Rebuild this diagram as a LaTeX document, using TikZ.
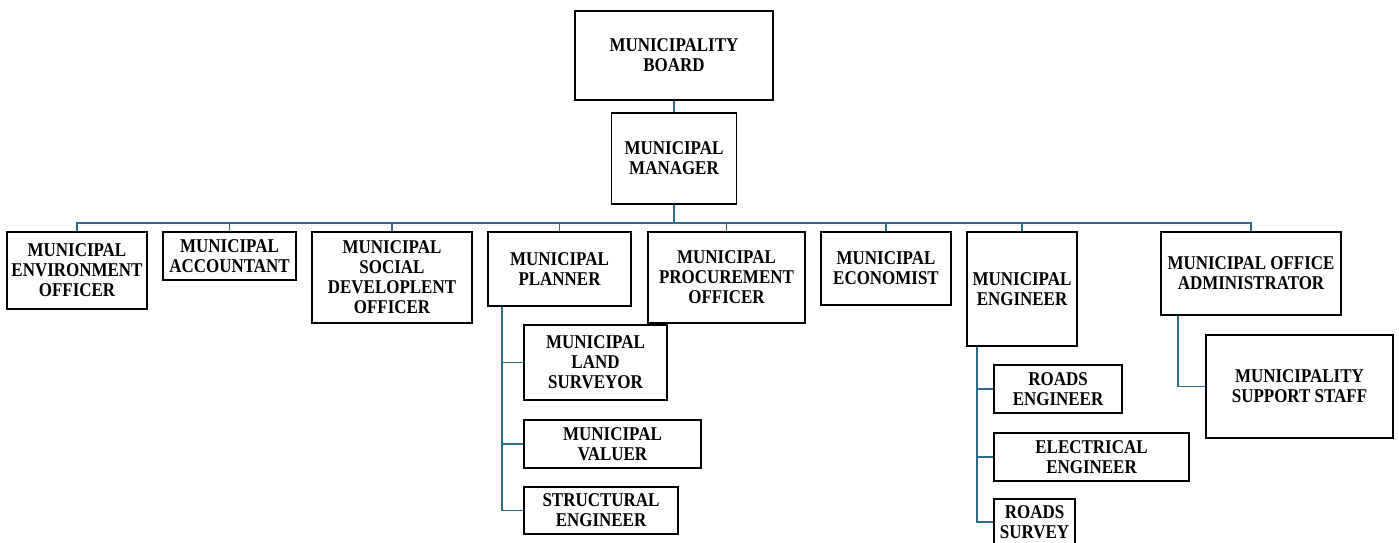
\documentclass[tikz,border=0pt]{standalone}
\usepackage{fontspec}
\setmainfont{Liberation Serif}[FakeStretch=0.87]
\usepackage{xcolor}
\definecolor{linkblue}{RGB}{46,108,140}
\tikzset{
  box/.style={draw, fill=white, line width=1.8pt, align=center, inner sep=0pt,
    font=\fontsize{19.5}{20}\selectfont\bfseries},
  link/.style={draw=linkblue, line width=1.7pt}
}
\begin{document}
\begin{tikzpicture}[x=1pt, y=-1pt]
  \useasboundingbox (0,0) rectangle (1399,543);
  \clip (0,0) rectangle (1399,543);
  % top
  \node[box, minimum width=198, minimum height=89] (board) at (674,55.5) {MUNICIPALITY\\BOARD};
  \node[box, minimum width=125, minimum height=91] (mgr) at (674,158.5) {MUNICIPAL\\MANAGER};
  % first row
  \node[box, minimum width=140, minimum height=77] (env) at (77,270.5) {MUNICIPAL\\ENVIRONMENT\\OFFICER};
  \node[box, minimum width=133, minimum height=48] (acct) at (229.5,256) {MUNICIPAL\\ACCOUNTANT};
  \node[box, minimum width=160, minimum height=91] (social) at (392,277.5) {MUNICIPAL\\SOCIAL\\DEVELOPLENT\\OFFICER};
  \node[box, minimum width=143, minimum height=74] (plan) at (559.5,269) {MUNICIPAL\\PLANNER};
  \node[box, minimum width=143, minimum height=75] (land) at (595.5,362.5) {MUNICIPAL\\LAND\\SURVEYOR};
  \node[box, minimum width=157, minimum height=91] (proc) at (726.5,277.5) {MUNICIPAL\\PROCUREMENT\\OFFICER};
  \node[box, minimum width=130, minimum height=73] (econ) at (886,268.5) {MUNICIPAL\\ECONOMIST};
  \node[box, minimum width=110, minimum height=114] (eng) at (1022,289) {MUNICIPAL\\ENGINEER};
  \node[box, minimum width=180, minimum height=83] (admin) at (1251,273.5) {MUNICIPAL OFFICE\\ADMINISTRATOR};
  % under planner
  \node[box, minimum width=177, minimum height=48] (valuer) at (612.5,444) {MUNICIPAL\\VALUER};
  \node[box, minimum width=154, minimum height=47] (struct) at (601,510.5) {STRUCTURAL\\ENGINEER};
  % under engineer
  \node[box, minimum width=128, minimum height=48] (roadeng) at (1058,389) {ROADS\\ENGINEER};
  \node[box, minimum width=195, minimum height=48] (elec) at (1091.5,457) {ELECTRICAL\\ENGINEER};
  \node[box, minimum width=81, minimum height=46] (roadsurv) at (1034.5,522) {ROADS\\SURVEY};
  % under administrator
  \node[box, minimum width=187, minimum height=103] (support) at (1299.5,386.5) {MUNICIPALITY\\SUPPORT STAFF};
  % connectors
  \draw[link] (board.south) -- (mgr.north);
  \foreach \n in {env, acct, social, plan, proc, econ, eng, admin}
    \draw[link] (mgr.south) -- ++(0,18) -| (\n.north);
  \draw[link] ([xshift=15pt]plan.south west) |- (land.west);
  \draw[link] ([xshift=15pt]plan.south west) |- (valuer.west);
  \draw[link] ([xshift=15pt]plan.south west) |- (struct.west);
  \draw[link] ([xshift=11pt]eng.south west) |- (roadeng.west);
  \draw[link] ([xshift=11pt]eng.south west) |- (elec.west);
  \draw[link] ([xshift=11pt]eng.south west) |- (roadsurv.west);
  \draw[link] ([xshift=18pt]admin.south west) |- (support.west);
\end{tikzpicture}
\end{document}
